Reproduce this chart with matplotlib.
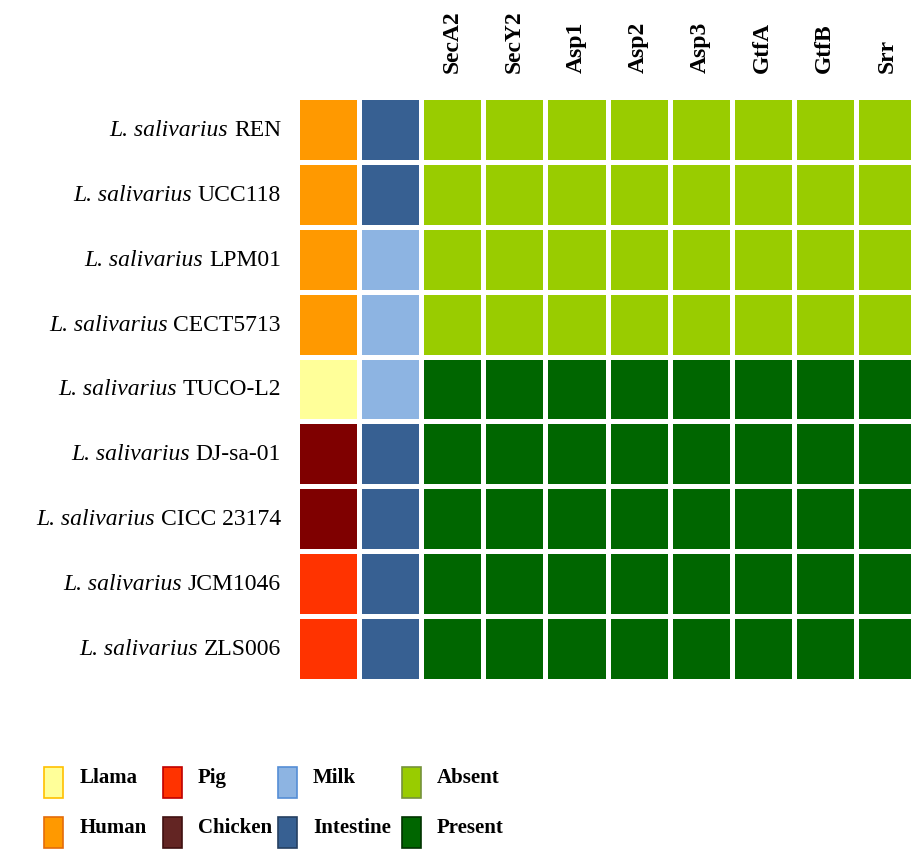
import matplotlib
matplotlib.use("Agg")
import matplotlib.pyplot as plt
from matplotlib.colors import ListedColormap
from matplotlib.patches import Rectangle
from matplotlib.transforms import blended_transform_factory, offset_copy
import numpy as np

plt.rcParams['font.family'] = ['Liberation Serif', 'DejaVu Serif']

# ---------------- data ----------------
species = "L. salivarius"
strains = ["REN", "UCC118", "LPM01", "CECT5713", "TUCO-L2",
           "DJ-sa-01", "CICC 23174", "JCM1046", "ZLS006"]
hosts = ["Human", "Human", "Human", "Human", "Llama",
         "Chicken", "Chicken", "Pig", "Pig"]
sources = ["Intestine", "Intestine", "Milk", "Milk", "Milk",
           "Intestine", "Intestine", "Intestine", "Intestine"]
genes = ["SecA2", "SecY2", "Asp1", "Asp2", "Asp3", "GtfA", "GtfB", "Srr"]
gene_status = [
    ["Absent"] * 8,
    ["Absent"] * 8,
    ["Absent"] * 8,
    ["Absent"] * 8,
    ["Present"] * 8,
    ["Present"] * 8,
    ["Present"] * 8,
    ["Present"] * 8,
    ["Present"] * 8,
]

# ---------------- styles ----------------
categories = ["Llama", "Human", "Pig", "Chicken", "Milk", "Intestine", "Absent", "Present"]
cat_colors = {
    "Llama": "#FFFF99",
    "Human": "#FF9900",
    "Pig": "#FF3300",
    "Chicken": "#7F0000",
    "Milk": "#8DB4E2",
    "Intestine": "#376092",
    "Absent": "#99CC00",
    "Present": "#006600",
}
legend_face = dict(cat_colors, Chicken="#632523")
legend_edge = {
    "Llama": "#FFC000", "Human": "#E46C0A", "Pig": "#C00000", "Chicken": "#3F1010",
    "Milk": "#558ED5", "Intestine": "#254061", "Absent": "#76923C", "Present": "#003300",
}

W, H, DPI = 912, 853, 100
fig = plt.figure(figsize=(W / DPI, H / DPI), dpi=DPI)

# axes in pixel coordinates (left, top, right, bottom)
x0, y0, x1, y1 = 297, 98, 918, 682
ax = fig.add_axes([x0 / W, 1 - y1 / H, (x1 - x0) / W, (y1 - y0) / H])

rows = []
for h, s, g in zip(hosts, sources, gene_status):
    rows.append([categories.index(h), categories.index(s)] + [categories.index(v) for v in g])
codes = np.array(rows)
cmap = ListedColormap([cat_colors[c] for c in categories])

ncol = codes.shape[1]
nrow = codes.shape[0]
ax.pcolormesh(np.arange(ncol + 1), np.arange(nrow + 1), codes, cmap=cmap,
              vmin=-0.5, vmax=len(categories) - 0.5,
              edgecolors="white", linewidth=2.2)
ax.set_xlim(0, ncol)
ax.set_ylim(nrow, 0)
for sp in ax.spines.values():
    sp.set_visible(False)

# row labels: italic species + regular strain
ax.set_yticks([])
trans = offset_copy(blended_transform_factory(ax.transAxes, ax.transData),
                    fig=fig, x=-16, y=0, units="dots")
for i, s in enumerate(strains):
    t = ax.text(0, i + 0.5, s, transform=trans, ha="right", va="center",
                fontsize=17)
    ax.annotate(species + " ", xy=(0, 0), xycoords=t, ha="right", va="bottom",
                fontsize=17, fontstyle="italic", annotation_clip=False)

# gene labels on top
ax.xaxis.tick_top()
ax.set_xticks(np.arange(2, ncol) + 0.5)
ax.set_xticklabels(genes, rotation=90, fontsize=17, fontweight="bold", va="bottom")
ax.tick_params(axis="x", length=0, pad=18)

# legend (manual layout)
leg_cols_x = [44, 163, 278, 402]
leg_text_x = [80, 198, 313, 437]
leg_rows_y = [768, 818]
leg_order = [["Llama", "Human"], ["Pig", "Chicken"], ["Milk", "Intestine"], ["Absent", "Present"]]
pw, ph = 19, 31
for ci, pair in enumerate(leg_order):
    for ri, name in enumerate(pair):
        px = leg_cols_x[ci]
        py = leg_rows_y[ri]
        fig.add_artist(Rectangle((px / W, 1 - (py + ph) / H), pw / W, ph / H,
                                 transform=fig.transFigure,
                                 facecolor=legend_face[name], edgecolor=legend_edge[name],
                                 linewidth=1.2))
        fig.text(leg_text_x[ci] / W, 1 - (py + ph / 2 - 5) / H, name,
                 fontsize=15, fontweight="bold", ha="left", va="center")

fig.savefig("out.png", dpi=DPI)
